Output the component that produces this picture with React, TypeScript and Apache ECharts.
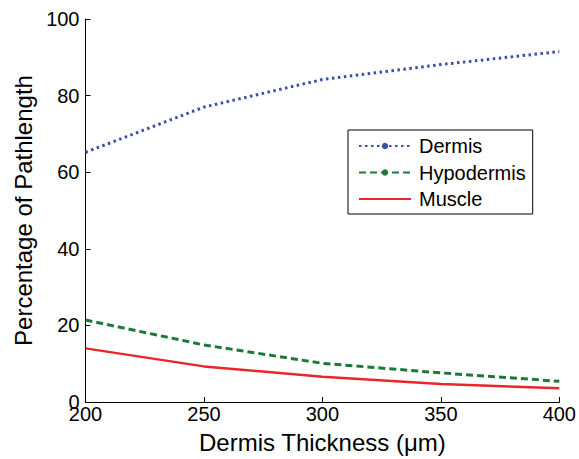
import React, { useEffect, useRef } from "react";
import * as echarts from "echarts";

const thickness = [200, 250, 300, 350, 400];
const dermis = [65.2, 77.0, 84.2, 88.1, 91.5];
const hypodermis = [21.4, 14.9, 10.1, 7.6, 5.4];
const muscle = [14.0, 9.3, 6.6, 4.7, 3.6];

const FONT = "Liberation Sans, Arial, Helvetica, sans-serif";

export default function App() {
  const ref = useRef<HTMLDivElement>(null);
  useEffect(() => {
    if (!ref.current) return;
    const chart = echarts.init(ref.current, undefined, { renderer: "svg" });
    const pair = (ys: number[]) => thickness.map((x, i) => [x, ys[i]]);
    chart.setOption({
      animation: false,
      backgroundColor: "#ffffff",
      textStyle: { fontFamily: FONT },
      grid: { left: 85.5, right: 19, top: 19, bottom: 54 },
      legend: {
        orient: "vertical",
        left: 348,
        top: 130,
        padding: [6, 7, 5, 10],
        borderColor: "#000",
        borderWidth: 1,
        itemWidth: 52,
        itemHeight: 8,
        itemGap: 6.5,
        textStyle: { fontFamily: FONT, fontSize: 20, color: "#000", padding: [0, 0, 0, 3] },
        data: [
          "Dermis",
          "Hypodermis",
          { name: "Muscle", itemStyle: { color: "rgba(0,0,0,0)", borderWidth: 0, opacity: 0 } },
        ],
      },
      xAxis: {
        type: "value",
        min: 200,
        max: 400,
        interval: 50,
        name: "Dermis Thickness (\u03bcm)",
        nameLocation: "middle",
        nameGap: 28,
        nameTextStyle: { fontFamily: FONT, fontSize: 24, color: "#000" },
        axisLine: { show: true, lineStyle: { color: "#000", width: 1 } },
        axisTick: { show: true, inside: true, length: 5, lineStyle: { color: "#000" } },
        axisLabel: { fontFamily: FONT, fontSize: 20, color: "#000", margin: 2 },
        splitLine: { show: false },
      },
      yAxis: {
        type: "value",
        min: 0,
        max: 100,
        interval: 20,
        name: "Percentage of Pathlength",
        nameLocation: "middle",
        nameGap: 50,
        nameTextStyle: { fontFamily: FONT, fontSize: 24, color: "#000" },
        axisLine: { show: true, lineStyle: { color: "#000", width: 1 } },
        axisTick: { show: true, inside: true, length: 5, lineStyle: { color: "#000" } },
        axisLabel: { fontFamily: FONT, fontSize: 20, color: "#000", margin: 6 },
        splitLine: { show: false },
      },
      series: [
        {
          name: "Dermis",
          type: "line",
          data: pair(dermis),
          symbol: "circle",
          symbolSize: 6,
          showSymbol: false,
          itemStyle: { color: "#3a4ea6" },
          lineStyle: { color: "#3a4ea6", width: 3, type: [2.5, 3.5] },
        },
        {
          name: "Hypodermis",
          type: "line",
          data: pair(hypodermis),
          symbol: "circle",
          symbolSize: 6,
          showSymbol: false,
          itemStyle: { color: "#1c7a38" },
          lineStyle: { color: "#1c7a38", width: 3, type: [7, 4] },
        },
        {
          name: "Muscle",
          type: "line",
          data: pair(muscle),
          symbol: "none",
          itemStyle: { color: "#e8262b" },
          lineStyle: { color: "#e8262b", width: 2.5 },
        },
      ],
    });
    return () => chart.dispose();
  }, []);
  return (
    <div
      ref={ref}
      style={{ position: "fixed", left: 0, top: 0, width: 579, height: 459 }}
    />
  );
}
